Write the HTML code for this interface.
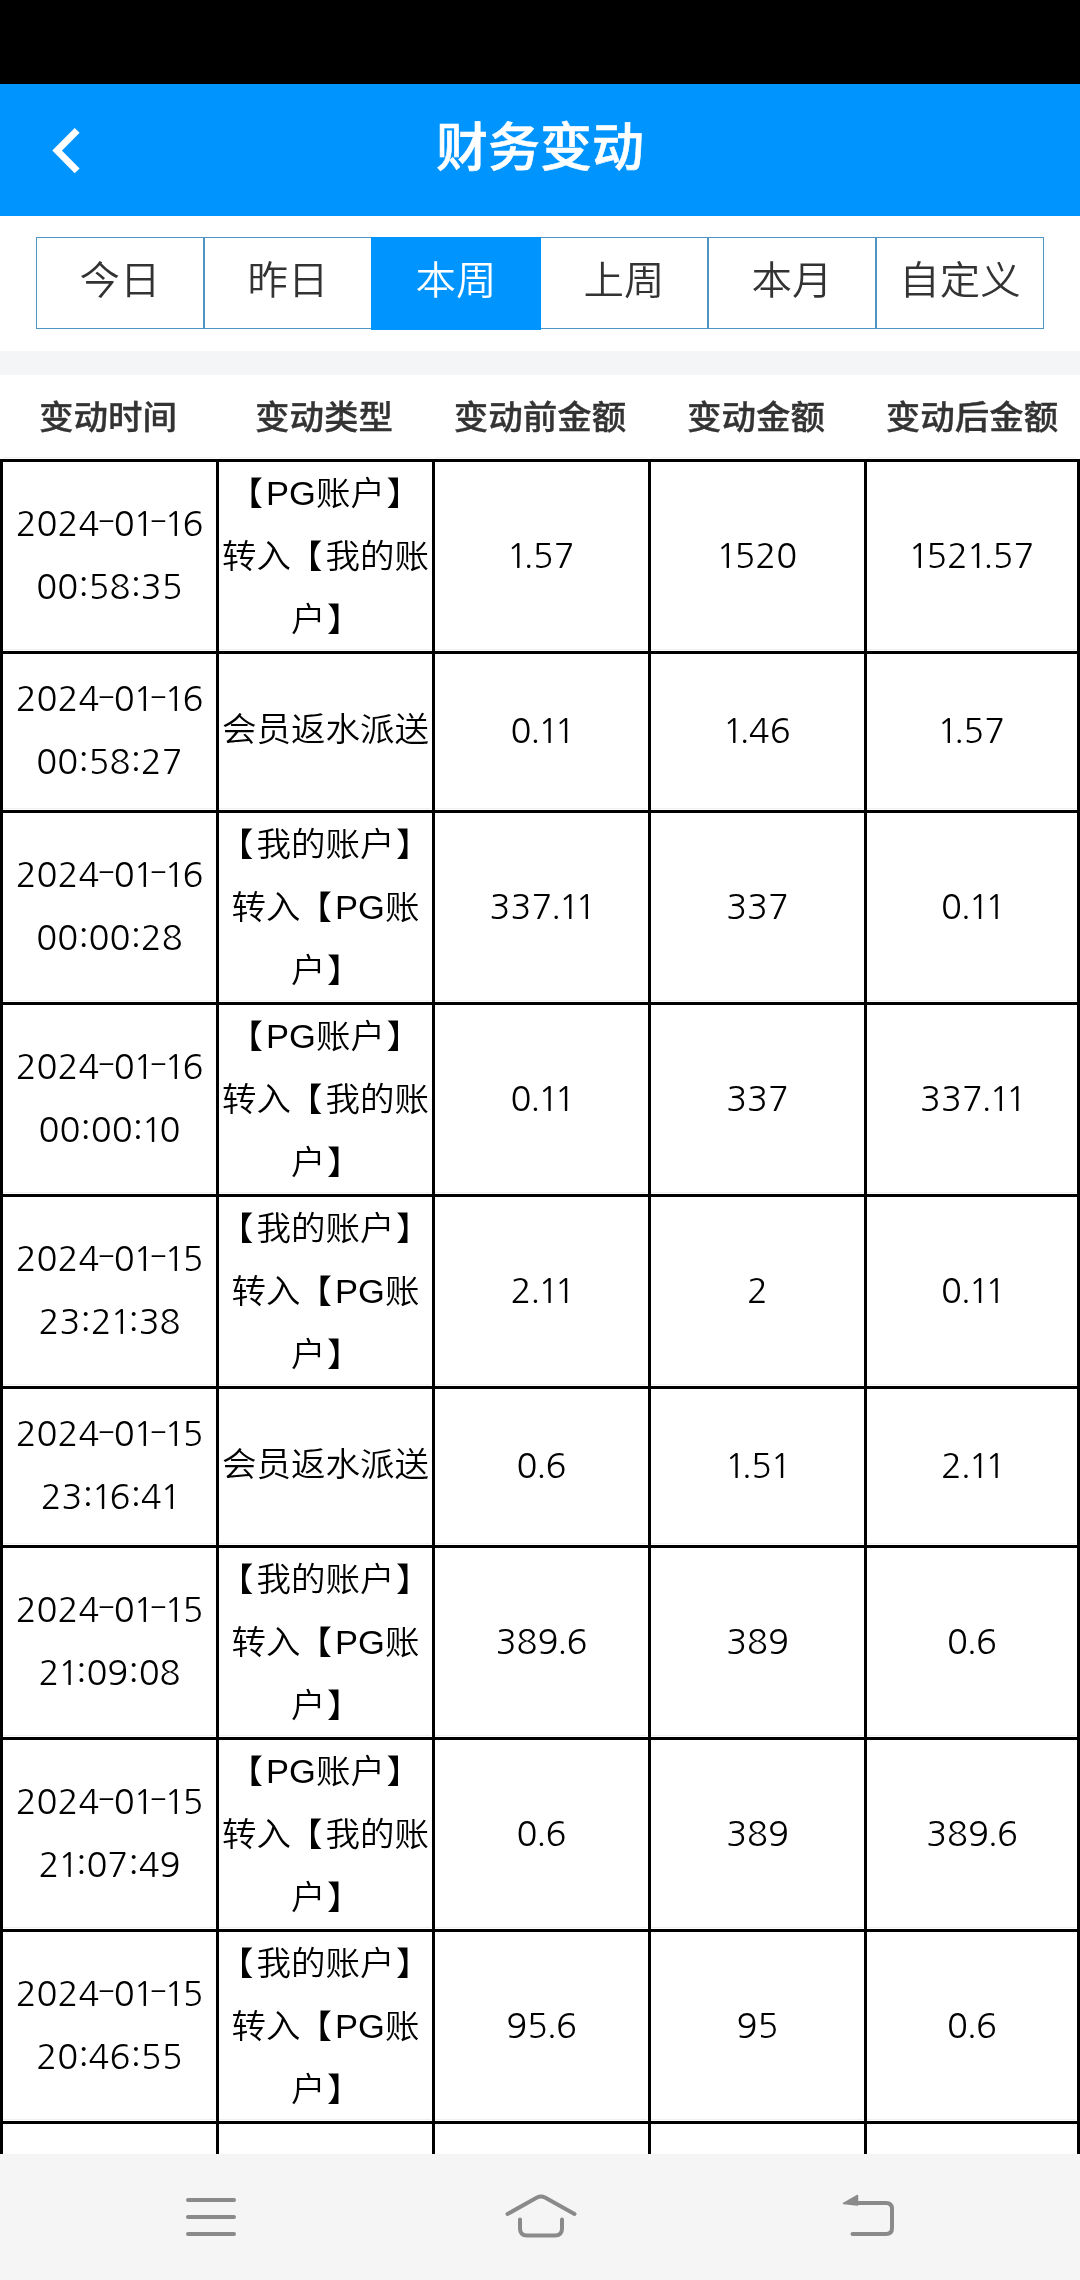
<!DOCTYPE html><html><head><meta charset="utf-8"><title>财务变动</title><style>
*{margin:0;padding:0;box-sizing:border-box}
html,body{width:1080px;height:2280px;overflow:hidden;background:#fff}
#wrap{position:absolute;left:0;top:0;width:1080px;height:2280px;will-change:transform}
body{position:relative;font-family:"Liberation Sans","Noto Sans CJK SC",sans-serif}
.abs{position:absolute}
#status{left:0;top:0;width:1080px;height:84px;background:#000}
#hdr{left:0;top:84px;width:1080px;height:132px;background:#0094ff}
#title{left:0;top:78px;width:1080px;height:132px;line-height:132px;text-align:center;color:#fff;font-size:52px;font-weight:500;-webkit-text-stroke:0.6px #fff;font-family:"Noto Sans CJK SC",sans-serif}
.tab{top:237px;width:168px;height:92px;border:1px solid #4c95c4;text-align:center;line-height:80px;font-size:40.5px;font-weight:350;color:#333;font-family:"Noto Sans CJK SC",sans-serif}
.tab.on{background:#0094ff;color:#fff;border:0;width:170px;height:93px;line-height:82px;z-index:2}
#band{left:0;top:351px;width:1080px;height:24px;background:#f4f5f7}
.th{top:375px;height:84px;width:216px;line-height:81px;text-align:center;font-size:34.5px;font-weight:500;-webkit-text-stroke:0.35px #333;color:#333;font-family:"Noto Sans CJK SC",sans-serif}
.hl{left:0;width:1080px;height:3px;background:#000}
.vl{top:459px;width:3px;height:1700px;background:#000}
.fl{height:1px;background:#f0f0f0}
.cell{display:flex;align-items:center;justify-content:center;text-align:center;flex-direction:column}
.ln{line-height:63px;height:63px;flex-shrink:0;white-space:nowrap}
.num{padding-bottom:3px;font-family:"NanumGothic","Liberation Sans",sans-serif;font-size:34.5px;color:#000}
.typ{font-family:"Liberation Sans","Noto Sans CJK SC",sans-serif;font-size:34.5px;font-weight:350;color:#000}
.dt{padding-bottom:4px}.t3{padding-top:1px}.t1{padding-bottom:4px}
.o{margin-left:-1.5px;margin-right:-2.9px}.k{}.p{margin-left:-1.5px;margin-right:-1px;position:relative;top:-2px}.h{display:inline-block;position:relative;top:-1.3px;margin:0 1px;transform:scale(1.5,0.75)}
.typ .ln{transform:scaleY(0.95)}
.bl{position:relative;left:-3px}.br{position:relative;left:1.5px}
#nav{left:0;top:2154px;width:1080px;height:126px;background:#f5f5f5}
</style></head><body><div id="wrap">
<div class="abs" id="status"></div><div class="abs" id="hdr"></div>
<svg class="abs" style="left:40px;top:120px" width="50" height="62" viewBox="40 120 50 62"><path d="M77.15 130.3 L57.15 150.55 L77.15 170.8" fill="none" stroke="#fff" stroke-width="6.9" stroke-linecap="butt" stroke-linejoin="miter"/></svg>
<div class="abs" id="title">财务变动</div>
<div class="abs tab" style="left:36px"><span style="display:inline-block;transform:scaleY(0.95)">今日</span></div>
<div class="abs tab" style="left:204px"><span style="display:inline-block;transform:scaleY(0.95)">昨日</span></div>
<div class="abs tab on" style="left:371px"><span style="display:inline-block;transform:scaleY(0.95)">本周</span></div>
<div class="abs tab" style="left:540px"><span style="display:inline-block;transform:scaleY(0.95)">上周</span></div>
<div class="abs tab" style="left:708px"><span style="display:inline-block;transform:scaleY(0.95)">本月</span></div>
<div class="abs tab" style="left:876px"><span style="display:inline-block;transform:scaleY(0.95)">自定义</span></div>
<div class="abs" id="band"></div>
<div class="abs th" style="left:0px"><span style="display:inline-block;transform:scaleY(0.96)">变动时间</span></div>
<div class="abs th" style="left:216px"><span style="display:inline-block;transform:scaleY(0.96)">变动类型</span></div>
<div class="abs th" style="left:432px"><span style="display:inline-block;transform:scaleY(0.96)">变动前金额</span></div>
<div class="abs th" style="left:648px"><span style="display:inline-block;transform:scaleY(0.96)">变动金额</span></div>
<div class="abs th" style="left:864px"><span style="display:inline-block;transform:scaleY(0.96)">变动后金额</span></div>
<div class="abs cell num dt" style="left:3px;top:462px;width:213px;height:189px"><div class="ln">2024<span class="h">-</span>0<span class="o">1</span><span class="h">-</span><span class="o">1</span>6</div><div class="ln">00:58:35</div></div>
<div class="abs cell typ t3" style="left:219px;top:462px;width:213px;height:189px"><div class="ln"><span class="bl">【</span>PG账户<span class="br">】</span></div><div class="ln">转入<span class="bl">【</span>我的账</div><div class="ln">户<span class="br">】</span></div></div>
<div class="abs cell num" style="left:435px;top:462px;width:213px;height:189px"><div class="ln"><span class="o">1</span><span class="p">.</span>57</div></div>
<div class="abs cell num" style="left:651px;top:462px;width:213px;height:189px"><div class="ln"><span class="o">1</span>520</div></div>
<div class="abs cell num" style="left:867px;top:462px;width:210px;height:189px"><div class="ln"><span class="o">1</span>52<span class="o">1</span><span class="p">.</span>57</div></div>
<div class="abs cell num dt" style="left:3px;top:654px;width:213px;height:156px"><div class="ln">2024<span class="h">-</span>0<span class="o">1</span><span class="h">-</span><span class="o">1</span>6</div><div class="ln">00:58:27</div></div>
<div class="abs cell typ t1" style="left:219px;top:654px;width:213px;height:156px"><div class="ln">会员返水派送</div></div>
<div class="abs cell num" style="left:435px;top:654px;width:213px;height:156px"><div class="ln">0<span class="p">.</span><span class="o k">1</span><span class="o">1</span></div></div>
<div class="abs cell num" style="left:651px;top:654px;width:213px;height:156px"><div class="ln"><span class="o">1</span><span class="p">.</span>46</div></div>
<div class="abs cell num" style="left:867px;top:654px;width:210px;height:156px"><div class="ln"><span class="o">1</span><span class="p">.</span>57</div></div>
<div class="abs cell num dt" style="left:3px;top:813px;width:213px;height:189px"><div class="ln">2024<span class="h">-</span>0<span class="o">1</span><span class="h">-</span><span class="o">1</span>6</div><div class="ln">00:00:28</div></div>
<div class="abs cell typ t3" style="left:219px;top:813px;width:213px;height:189px"><div class="ln"><span class="bl">【</span>我的账户<span class="br">】</span></div><div class="ln">转入<span class="bl">【</span>PG账</div><div class="ln">户<span class="br">】</span></div></div>
<div class="abs cell num" style="left:435px;top:813px;width:213px;height:189px"><div class="ln">337<span class="p">.</span><span class="o k">1</span><span class="o">1</span></div></div>
<div class="abs cell num" style="left:651px;top:813px;width:213px;height:189px"><div class="ln">337</div></div>
<div class="abs cell num" style="left:867px;top:813px;width:210px;height:189px"><div class="ln">0<span class="p">.</span><span class="o k">1</span><span class="o">1</span></div></div>
<div class="abs cell num dt" style="left:3px;top:1005px;width:213px;height:189px"><div class="ln">2024<span class="h">-</span>0<span class="o">1</span><span class="h">-</span><span class="o">1</span>6</div><div class="ln">00:00:<span class="o">1</span>0</div></div>
<div class="abs cell typ t3" style="left:219px;top:1005px;width:213px;height:189px"><div class="ln"><span class="bl">【</span>PG账户<span class="br">】</span></div><div class="ln">转入<span class="bl">【</span>我的账</div><div class="ln">户<span class="br">】</span></div></div>
<div class="abs cell num" style="left:435px;top:1005px;width:213px;height:189px"><div class="ln">0<span class="p">.</span><span class="o k">1</span><span class="o">1</span></div></div>
<div class="abs cell num" style="left:651px;top:1005px;width:213px;height:189px"><div class="ln">337</div></div>
<div class="abs cell num" style="left:867px;top:1005px;width:210px;height:189px"><div class="ln">337<span class="p">.</span><span class="o k">1</span><span class="o">1</span></div></div>
<div class="abs cell num dt" style="left:3px;top:1197px;width:213px;height:189px"><div class="ln">2024<span class="h">-</span>0<span class="o">1</span><span class="h">-</span><span class="o">1</span>5</div><div class="ln">23:2<span class="o">1</span>:38</div></div>
<div class="abs cell typ t3" style="left:219px;top:1197px;width:213px;height:189px"><div class="ln"><span class="bl">【</span>我的账户<span class="br">】</span></div><div class="ln">转入<span class="bl">【</span>PG账</div><div class="ln">户<span class="br">】</span></div></div>
<div class="abs cell num" style="left:435px;top:1197px;width:213px;height:189px"><div class="ln">2<span class="p">.</span><span class="o k">1</span><span class="o">1</span></div></div>
<div class="abs cell num" style="left:651px;top:1197px;width:213px;height:189px"><div class="ln">2</div></div>
<div class="abs cell num" style="left:867px;top:1197px;width:210px;height:189px"><div class="ln">0<span class="p">.</span><span class="o k">1</span><span class="o">1</span></div></div>
<div class="abs cell num dt" style="left:3px;top:1389px;width:213px;height:156px"><div class="ln">2024<span class="h">-</span>0<span class="o">1</span><span class="h">-</span><span class="o">1</span>5</div><div class="ln">23:<span class="o">1</span>6:4<span class="o">1</span></div></div>
<div class="abs cell typ t1" style="left:219px;top:1389px;width:213px;height:156px"><div class="ln">会员返水派送</div></div>
<div class="abs cell num" style="left:435px;top:1389px;width:213px;height:156px"><div class="ln">0<span class="p">.</span>6</div></div>
<div class="abs cell num" style="left:651px;top:1389px;width:213px;height:156px"><div class="ln"><span class="o">1</span><span class="p">.</span>5<span class="o">1</span></div></div>
<div class="abs cell num" style="left:867px;top:1389px;width:210px;height:156px"><div class="ln">2<span class="p">.</span><span class="o k">1</span><span class="o">1</span></div></div>
<div class="abs cell num dt" style="left:3px;top:1548px;width:213px;height:189px"><div class="ln">2024<span class="h">-</span>0<span class="o">1</span><span class="h">-</span><span class="o">1</span>5</div><div class="ln">2<span class="o">1</span>:09:08</div></div>
<div class="abs cell typ t3" style="left:219px;top:1548px;width:213px;height:189px"><div class="ln"><span class="bl">【</span>我的账户<span class="br">】</span></div><div class="ln">转入<span class="bl">【</span>PG账</div><div class="ln">户<span class="br">】</span></div></div>
<div class="abs cell num" style="left:435px;top:1548px;width:213px;height:189px"><div class="ln">389<span class="p">.</span>6</div></div>
<div class="abs cell num" style="left:651px;top:1548px;width:213px;height:189px"><div class="ln">389</div></div>
<div class="abs cell num" style="left:867px;top:1548px;width:210px;height:189px"><div class="ln">0<span class="p">.</span>6</div></div>
<div class="abs cell num dt" style="left:3px;top:1740px;width:213px;height:189px"><div class="ln">2024<span class="h">-</span>0<span class="o">1</span><span class="h">-</span><span class="o">1</span>5</div><div class="ln">2<span class="o">1</span>:07:49</div></div>
<div class="abs cell typ t3" style="left:219px;top:1740px;width:213px;height:189px"><div class="ln"><span class="bl">【</span>PG账户<span class="br">】</span></div><div class="ln">转入<span class="bl">【</span>我的账</div><div class="ln">户<span class="br">】</span></div></div>
<div class="abs cell num" style="left:435px;top:1740px;width:213px;height:189px"><div class="ln">0<span class="p">.</span>6</div></div>
<div class="abs cell num" style="left:651px;top:1740px;width:213px;height:189px"><div class="ln">389</div></div>
<div class="abs cell num" style="left:867px;top:1740px;width:210px;height:189px"><div class="ln">389<span class="p">.</span>6</div></div>
<div class="abs cell num dt" style="left:3px;top:1932px;width:213px;height:189px"><div class="ln">2024<span class="h">-</span>0<span class="o">1</span><span class="h">-</span><span class="o">1</span>5</div><div class="ln">20:46:55</div></div>
<div class="abs cell typ t3" style="left:219px;top:1932px;width:213px;height:189px"><div class="ln"><span class="bl">【</span>我的账户<span class="br">】</span></div><div class="ln">转入<span class="bl">【</span>PG账</div><div class="ln">户<span class="br">】</span></div></div>
<div class="abs cell num" style="left:435px;top:1932px;width:213px;height:189px"><div class="ln">95<span class="p">.</span>6</div></div>
<div class="abs cell num" style="left:651px;top:1932px;width:213px;height:189px"><div class="ln">95</div></div>
<div class="abs cell num" style="left:867px;top:1932px;width:210px;height:189px"><div class="ln">0<span class="p">.</span>6</div></div>
<div class="abs fl" style="left:3px;top:457px;width:212px"></div>
<div class="abs fl" style="left:219px;top:457px;width:212px"></div>
<div class="abs fl" style="left:435px;top:457px;width:212px"></div>
<div class="abs fl" style="left:651px;top:457px;width:212px"></div>
<div class="abs fl" style="left:867px;top:457px;width:209px"></div>
<div class="abs fl" style="left:3px;top:649px;width:212px"></div>
<div class="abs fl" style="left:219px;top:649px;width:212px"></div>
<div class="abs fl" style="left:435px;top:649px;width:212px"></div>
<div class="abs fl" style="left:651px;top:649px;width:212px"></div>
<div class="abs fl" style="left:867px;top:649px;width:209px"></div>
<div class="abs fl" style="left:3px;top:808px;width:212px"></div>
<div class="abs fl" style="left:219px;top:808px;width:212px"></div>
<div class="abs fl" style="left:435px;top:808px;width:212px"></div>
<div class="abs fl" style="left:651px;top:808px;width:212px"></div>
<div class="abs fl" style="left:867px;top:808px;width:209px"></div>
<div class="abs fl" style="left:3px;top:1000px;width:212px"></div>
<div class="abs fl" style="left:219px;top:1000px;width:212px"></div>
<div class="abs fl" style="left:435px;top:1000px;width:212px"></div>
<div class="abs fl" style="left:651px;top:1000px;width:212px"></div>
<div class="abs fl" style="left:867px;top:1000px;width:209px"></div>
<div class="abs fl" style="left:3px;top:1192px;width:212px"></div>
<div class="abs fl" style="left:219px;top:1192px;width:212px"></div>
<div class="abs fl" style="left:435px;top:1192px;width:212px"></div>
<div class="abs fl" style="left:651px;top:1192px;width:212px"></div>
<div class="abs fl" style="left:867px;top:1192px;width:209px"></div>
<div class="abs fl" style="left:3px;top:1384px;width:212px"></div>
<div class="abs fl" style="left:219px;top:1384px;width:212px"></div>
<div class="abs fl" style="left:435px;top:1384px;width:212px"></div>
<div class="abs fl" style="left:651px;top:1384px;width:212px"></div>
<div class="abs fl" style="left:867px;top:1384px;width:209px"></div>
<div class="abs fl" style="left:3px;top:1543px;width:212px"></div>
<div class="abs fl" style="left:219px;top:1543px;width:212px"></div>
<div class="abs fl" style="left:435px;top:1543px;width:212px"></div>
<div class="abs fl" style="left:651px;top:1543px;width:212px"></div>
<div class="abs fl" style="left:867px;top:1543px;width:209px"></div>
<div class="abs fl" style="left:3px;top:1735px;width:212px"></div>
<div class="abs fl" style="left:219px;top:1735px;width:212px"></div>
<div class="abs fl" style="left:435px;top:1735px;width:212px"></div>
<div class="abs fl" style="left:651px;top:1735px;width:212px"></div>
<div class="abs fl" style="left:867px;top:1735px;width:209px"></div>
<div class="abs fl" style="left:3px;top:1927px;width:212px"></div>
<div class="abs fl" style="left:219px;top:1927px;width:212px"></div>
<div class="abs fl" style="left:435px;top:1927px;width:212px"></div>
<div class="abs fl" style="left:651px;top:1927px;width:212px"></div>
<div class="abs fl" style="left:867px;top:1927px;width:209px"></div>
<div class="abs fl" style="left:3px;top:2119px;width:212px"></div>
<div class="abs fl" style="left:219px;top:2119px;width:212px"></div>
<div class="abs fl" style="left:435px;top:2119px;width:212px"></div>
<div class="abs fl" style="left:651px;top:2119px;width:212px"></div>
<div class="abs fl" style="left:867px;top:2119px;width:209px"></div>
<div class="abs hl" style="top:459px"></div>
<div class="abs hl" style="top:651px"></div>
<div class="abs hl" style="top:810px"></div>
<div class="abs hl" style="top:1002px"></div>
<div class="abs hl" style="top:1194px"></div>
<div class="abs hl" style="top:1386px"></div>
<div class="abs hl" style="top:1545px"></div>
<div class="abs hl" style="top:1737px"></div>
<div class="abs hl" style="top:1929px"></div>
<div class="abs hl" style="top:2121px"></div>
<div class="abs vl" style="left:0px"></div>
<div class="abs vl" style="left:216px"></div>
<div class="abs vl" style="left:432px"></div>
<div class="abs vl" style="left:648px"></div>
<div class="abs vl" style="left:864px"></div>
<div class="abs vl" style="left:1077px"></div>
<div class="abs" id="nav"></div>
<svg class="abs" style="left:0;top:2154px" width="1080" height="126" viewBox="0 2154 1080 126">
<g fill="none" stroke="#8a8a8a" stroke-width="4" stroke-linecap="round" stroke-linejoin="round">
<path d="M188 2200H234M188 2217H234M188 2234H234"/>
<path d="M507.5 2214 L537 2197.5 Q541 2195.5 545 2197.5 L574.5 2214"/>
<path d="M520 2219.5V2228.5Q520 2235.5 527 2235.5H555Q562 2235.5 562 2228.5V2219.5"/>
<path d="M856 2203H886Q892 2203 892 2209V2228Q892 2234 886 2234H852.5"/>
</g>
<path d="M843.5 2203.5 L857.5 2195.5 L857.5 2205 Z" fill="#8a8a8a" stroke="#8a8a8a" stroke-width="1.5" stroke-linejoin="round"/>
</svg>
</div></body></html>
